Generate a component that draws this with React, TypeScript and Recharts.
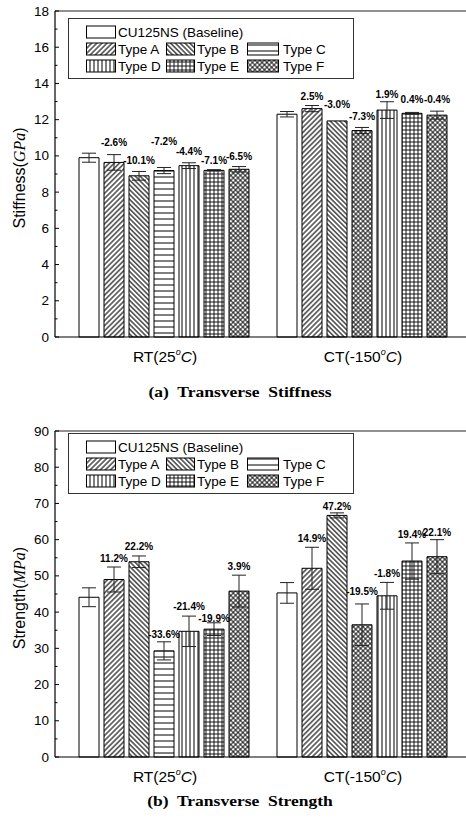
import React from 'react';
import { BarChart, Bar, XAxis, YAxis, ErrorBar, Cell, LabelList, ReferenceLine } from 'recharts';

// ---------- data ----------
const categories = ['RT', 'CT'];
const categoryTemps = ['25', '-150'];
const seriesNames = ['CU125NS (Baseline)', 'Type A', 'Type B', 'Type C', 'Type D', 'Type E', 'Type F'];

// (a) Transverse stiffness, GPa
const stiffnessRT = [9.9, 9.64, 8.9, 9.19, 9.46, 9.2, 9.26];
const stiffnessCT = [12.3, 12.61, 11.93, 11.4, 12.53, 12.35, 12.25];
const stiffnessErrRT = [0.25, 0.43, 0.24, 0.17, 0.16, 0.04, 0.15];
const stiffnessErrCT = [0.15, 0.17, 0, 0.17, 0.46, 0.05, 0.22];
const stiffnessPctRT = ['', '-2.6%', '-10.1%', '-7.2%', '-4.4%', '-7.1%', '-6.5%'];
const stiffnessPctCT = ['', '2.5%', '-3.0%', '-7.3%', '1.9%', '0.4%', '-0.4%'];
// value (GPa) at which each percentage annotation sits
const stiffnessPctAtRT = [0, 10.72, 9.74, 10.77, 10.24, 9.72, 9.96];
const stiffnessPctAtCT = [0, 13.28, 12.82, 12.17, 13.41, 13.09, 13.09];
const stiffnessTicks = [0, 1, 2, 3, 4, 5, 6, 7, 8, 9, 10, 11, 12, 13, 14, 15, 16, 17, 18];

// (b) Transverse strength, MPa
const strengthRT = [44.1, 49.0, 53.9, 29.3, 34.7, 35.3, 45.8];
const strengthCT = [45.3, 52.1, 66.7, 36.5, 44.5, 54.1, 55.3];
const strengthErrRT = [2.6, 3.45, 1.6, 2.5, 4.2, 1.75, 4.4];
const strengthErrCT = [2.85, 5.8, 0.7, 5.75, 3.7, 5.0, 4.7];
const strengthPctRT = ['', '11.2%', '22.2%', '-33.6%', '-21.4%', '-19.9%', '3.9%'];
const strengthPctCT = ['', '14.9%', '47.2%', '-19.5%', '-1.8%', '19.4%', '22.1%'];
const strengthPctAtRT = [0, 54.9, 58.1, 33.9, 41.5, 38.1, 52.5];
const strengthPctAtCT = [0, 60.4, 69.1, 45.8, 50.7, 61.3, 61.9];
const strengthTicks = [0, 5, 10, 15, 20, 25, 30, 35, 40, 45, 50, 55, 60, 65, 70, 75, 80, 85, 90];

// ---------- styles ----------
const SANS = '"Liberation Sans", Arial, sans-serif';
const SERIF = '"Liberation Serif", "Times New Roman", serif';
const fills = ['#ffffff', 'url(#pA)', 'url(#pB)', 'url(#pC)', 'url(#pD)', 'url(#pE)', 'url(#pF)'];
// In the original figure the Type C bar of the CT group carries the cross-hatch shading
const typeCFillByCategory = ['url(#pC)', 'url(#pF)'];

function buildRows(vals: number[][], errs: number[][], pcts: string[][], pctAt: number[][]) {
  return categories.map((c, ci) => {
    const row: any = { cat: c };
    seriesNames.forEach((_, si) => {
      row['v' + si] = vals[ci][si];
      row['e' + si] = errs[ci][si];
      row['l' + si] = pcts[ci][si] ? `${pcts[ci][si]}|${pctAt[ci][si]}|${vals[ci][si]}` : '';
    });
    return row;
  });
}

const stiffnessRows = buildRows(
  [stiffnessRT, stiffnessCT],
  [stiffnessErrRT, stiffnessErrCT],
  [stiffnessPctRT, stiffnessPctCT],
  [stiffnessPctAtRT, stiffnessPctAtCT]
);
const strengthRows = buildRows(
  [strengthRT, strengthCT],
  [strengthErrRT, strengthErrCT],
  [strengthPctRT, strengthPctCT],
  [strengthPctAtRT, strengthPctAtCT]
);

const PctLabel = (props: any) => {
  const raw = props.value;
  if (!raw) return null;
  const parts = String(raw).split('|');
  if (parts.length < 3 || !parts[0]) return null;
  const vb = props.viewBox || {};
  const x = vb.x ?? props.x;
  const y = vb.y ?? props.y;
  const w = vb.width ?? props.width;
  const h = vb.height ?? props.height;
  const at = parseFloat(parts[1]);
  const v = parseFloat(parts[2]);
  const base = y + h;
  const ppu = h / v;
  const cy = base - at * ppu;
  const cx = x + w / 2;
  return (
    <text
      x={cx}
      y={cy}
      textAnchor="middle"
      dominantBaseline="central"
      fontFamily={SANS}
      fontSize={10}
      fontWeight="bold"
      fill="#000"
    >
      {parts[0]}
    </text>
  );
};

const makeYTick = (majorStep: number) => (props: any) => {
  const { x, y, payload } = props;
  const v = payload.value;
  const major = Math.abs(v % majorStep) < 1e-9;
  return (
    <g>
      <line x1={x} x2={x + (major ? 4 : 2.5)} y1={y} y2={y} stroke="#000" strokeWidth={1} />
      {major && (
        <text x={x - 6} y={y} textAnchor="end" dominantBaseline="central" fontFamily={SANS} fontSize={13.5} fill="#000">
          {v}
        </text>
      )}
    </g>
  );
};

const CatTick = (props: any) => {
  const { x, y, payload } = props;
  const ci = categories.indexOf(payload.value);
  return (
    <text x={x + 1} y={y + 17} textAnchor="middle" fontFamily={SANS} fontSize={15.5} fill="#000">
      {payload.value}({categoryTemps[ci]}
      <tspan fontStyle="italic" fontSize={9} dy={-7}>o</tspan>
      <tspan fontStyle="italic" dy={7}>C</tspan>)
    </text>
  );
};

const AxisTitle = ({ main, unit, cx, cy }: any) => (
  <text
    x={cx}
    y={cy}
    transform={`rotate(-90 ${cx} ${cy})`}
    textAnchor="middle"
    dominantBaseline="central"
    fontFamily={SANS}
    fontSize={16}
    fill="#000"
  >
    {main}(<tspan fontFamily={SERIF} fontStyle="italic">{unit}</tspan>)
  </text>
);

const legendRows = [[0], [1, 2, 3], [4, 5, 6]];
const swatchX = [86, 166, 247];
const swatchW = [29, 28, 31];
const labelX = [118, 197, 283];

const LegendBox = ({ top, boxTop }: any) => (
  <svg style={{ position: 'absolute', left: 0, top, pointerEvents: 'none' }} width={466} height={100}>
    <rect x={68.5} y={boxTop + 0.5} width={285} height={60} fill="#fff" stroke="#333" strokeWidth={1} />
    {legendRows.map((row, ri) =>
      row.map((si, ci) => {
        const cy = boxTop + 14 + ri * 17;
        return (
          <g key={si}>
            <rect x={swatchX[ci] + 0.5} y={cy - 6} width={swatchW[ci]} height={12} fill={fills[si]} stroke="#000" strokeWidth={1} />
            <text x={labelX[ci]} y={cy} dominantBaseline="central" fontFamily={SANS} fontSize={13.5} fill="#000">
              {seriesNames[si]}
            </text>
          </g>
        );
      })
    )}
  </svg>
);

const Panel = ({ rows, max, ticks, majorStep, title, unit }: any) => (
  <BarChart
    width={466}
    height={370}
    data={rows}
    margin={{ top: 11, right: 0, bottom: 0, left: 0 }}
    barCategoryGap={14}
    barGap={5}
  >
    <XAxis
      dataKey="cat"
      axisLine={{ stroke: '#000', strokeWidth: 1.2 }}
      tickLine={false}
      tick={<CatTick />}
      padding={{ left: 10, right: 5 }}
      height={33}
      interval={0}
    />
    <YAxis
      type="number"
      domain={[0, max]}
      ticks={ticks}
      interval={0}
      width={55}
      tickSize={0}
      tickMargin={0}
      tickLine={false}
      axisLine={{ stroke: '#000', strokeWidth: 1.2 }}
      tick={makeYTick(majorStep)}
      label={(p: any) => {
        const vb = p.viewBox || {};
        return <AxisTitle main={title} unit={unit} cx={19} cy={(vb.y ?? 11) + (vb.height ?? 326) / 2 + 4} />;
      }}
    />
    <ReferenceLine y={max} stroke="#222" strokeWidth={1.2} />
    {seriesNames.map((name, si) => (
      <Bar
        key={si}
        dataKey={'v' + si}
        name={name}
        fill={fills[si]}
        stroke="#000"
        strokeWidth={1}
        isAnimationActive={false}
      >
        {si === 3 ? rows.map((_: any, ci: number) => <Cell key={ci} fill={typeCFillByCategory[ci]} />) : null}
        <ErrorBar dataKey={'e' + si} width={7} stroke="#222" strokeWidth={1} direction="y" />
        <LabelList dataKey={'l' + si} content={PctLabel} />
      </Bar>
    ))}
  </BarChart>
);

export default function App() {
  return (
    <div style={{ position: 'absolute', left: 0, top: 0, width: 466, height: 825, background: '#fff', overflow: 'hidden' }}>
      <svg width={0} height={0} style={{ position: 'absolute' }}>
        <defs>
          <pattern id="pA" patternUnits="userSpaceOnUse" width={3.6} height={10} patternTransform="rotate(45)">
            <line x1={1.8} y1={0} x2={1.8} y2={10} stroke="#000" strokeWidth={1.1} />
          </pattern>
          <pattern id="pB" patternUnits="userSpaceOnUse" width={3.4} height={10} patternTransform="rotate(-45)">
            <line x1={1.7} y1={0} x2={1.7} y2={10} stroke="#000" strokeWidth={1.1} />
          </pattern>
          <pattern id="pC" patternUnits="userSpaceOnUse" width={10} height={6}>
            <line x1={0} y1={3} x2={10} y2={3} stroke="#000" strokeWidth={1} />
          </pattern>
          <pattern id="pD" patternUnits="userSpaceOnUse" width={4} height={10}>
            <line x1={2} y1={0} x2={2} y2={10} stroke="#000" strokeWidth={1} />
          </pattern>
          <pattern id="pE" patternUnits="userSpaceOnUse" width={4} height={4}>
            <line x1={2} y1={0} x2={2} y2={4} stroke="#000" strokeWidth={0.9} />
            <line x1={0} y1={2} x2={4} y2={2} stroke="#000" strokeWidth={0.9} />
          </pattern>
          <pattern id="pF" patternUnits="userSpaceOnUse" width={3.4} height={3.4} patternTransform="rotate(45)">
            <line x1={1.7} y1={0} x2={1.7} y2={3.4} stroke="#000" strokeWidth={0.9} />
            <line x1={0} y1={1.7} x2={3.4} y2={1.7} stroke="#000" strokeWidth={0.9} />
          </pattern>
        </defs>
      </svg>

      <div style={{ position: 'absolute', left: 0, top: 0 }}>
        <Panel rows={stiffnessRows} max={18} ticks={stiffnessTicks} majorStep={2} title="Stiffness" unit="GPa" />
      </div>
      <LegendBox top={0} boxTop={18} />
      <div
        style={{
          position: 'absolute', left: 240, top: 384, transform: 'translateX(-50%) scaleX(1.25)',
          fontFamily: SERIF, fontWeight: 'bold', fontSize: 14, whiteSpace: 'pre', lineHeight: '18px', color: '#000',
        }}
      >
        {'(a)  Transverse  Stiffness'}
      </div>

      <div style={{ position: 'absolute', left: 0, top: 420 }}>
        <Panel rows={strengthRows} max={90} ticks={strengthTicks} majorStep={10} title="Strength" unit="MPa" />
      </div>
      <LegendBox top={420} boxTop={13} />
      <div
        style={{
          position: 'absolute', left: 240, top: 793, transform: 'translateX(-50%) scaleX(1.25)',
          fontFamily: SERIF, fontWeight: 'bold', fontSize: 14, whiteSpace: 'pre', lineHeight: '18px', color: '#000',
        }}
      >
        {'(b)  Transverse  Strength'}
      </div>
    </div>
  );
}
